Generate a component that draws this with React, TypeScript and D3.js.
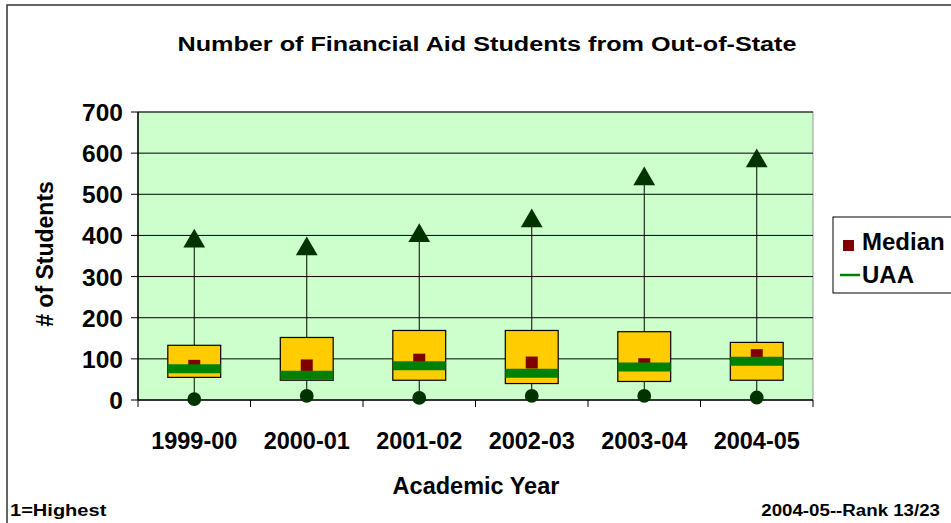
import React from 'react';
import * as d3 from 'd3';

const categories = ['1999-00', '2000-01', '2001-02', '2002-03', '2003-04', '2004-05'];
const highs = [386, 367, 399, 435, 537, 581];
const boxTops = [133, 152, 169, 169, 166, 140];
const boxBottoms = [55, 48, 48, 40, 45, 48];
const lows = [2, 10, 5, 10, 10, 6];
const medians = [83, 84, 98, 91, 87, 109];
const uaa = [76, 60, 83, 65, 80, 94];
const yTicks = [0, 100, 200, 300, 400, 500, 600, 700];

const FONT = 'Arial, "Liberation Sans", sans-serif';

const App: React.FC = () => {
  const width = 951;
  const height = 523;
  const plot = { left: 138, top: 112, right: 813, bottom: 400 };

  const x = d3.scaleBand<string>()
    .domain(categories)
    .range([plot.left, plot.right]);

  const y = d3.scaleLinear()
    .domain([0, 700])
    .range([plot.bottom, plot.top]);

  const boxW = x.bandwidth() * 0.47;
  const markerSize = 12;
  const tri = d3.symbol().type(d3.symbolTriangle).size(205)();
  const dot = d3.symbol().type(d3.symbolCircle).size(150)();

  return (
    <svg width={width} height={height} style={{ position: 'absolute', left: 0, top: 0 }}
      fontFamily={FONT} fontWeight="bold">
      <rect x={0} y={0} width={width} height={height} fill="#fff" />
      {/* outer chart frame */}
      <rect x={7} y={5} width={width + 20} height={height + 20} fill="none" stroke="#333" strokeWidth={1.5} />

      <text x={487} y={51} textAnchor="middle" fontSize={21} transform="translate(487,0) scale(1.2,1) translate(-487,0)">
        Number of Financial Aid Students from Out-of-State
      </text>

      {/* plot area */}
      <rect x={plot.left} y={plot.top} width={plot.right - plot.left} height={plot.bottom - plot.top}
        fill="#CCFFCC" stroke="#999" strokeWidth={1} />

      {yTicks.filter(t => t > 0).map(t => (
        <line key={t} x1={plot.left} x2={plot.right} y1={y(t)} y2={y(t)} stroke="#000" strokeWidth={1} />
      ))}

      {/* y axis */}
      <line x1={plot.left} x2={plot.left} y1={plot.top} y2={plot.bottom} stroke="#000" strokeWidth={1.5} />
      {yTicks.map(t => (
        <g key={t}>
          <line x1={plot.left - 7} x2={plot.left} y1={y(t)} y2={y(t)} stroke="#000" />
          <text x={plot.left - 15} y={y(t) + 9} textAnchor="end" fontSize={24.5}>{t}</text>
        </g>
      ))}

      {/* x axis */}
      <line x1={plot.left} x2={plot.right} y1={plot.bottom} y2={plot.bottom} stroke="#000" strokeWidth={1.5} />
      {categories.concat(['end']).map((c, i) => {
        const xx = plot.left + i * x.step();
        return <line key={c} x1={xx} x2={xx} y1={plot.bottom} y2={plot.bottom + 7} stroke="#000" />;
      })}
      {categories.map(c => (
        <text key={c} x={x(c)! + x.bandwidth() / 2} y={449} textAnchor="middle" fontSize={23.5}>{c}</text>
      ))}

      <text x={476} y={494} textAnchor="middle" fontSize={23.5}>Academic Year</text>
      <text transform={`translate(53,${254}) rotate(-90)`} textAnchor="middle" fontSize={23}># of Students</text>

      {/* high-low boxes */}
      {categories.map((c, i) => {
        const cx = x(c)! + x.bandwidth() / 2;
        return (
          <g key={c}>
            <line x1={cx} x2={cx} y1={y(highs[i])} y2={y(lows[i])} stroke="#000" strokeWidth={1} />
            <rect x={cx - boxW / 2} y={y(boxTops[i])} width={boxW}
              height={y(boxBottoms[i]) - y(boxTops[i])} fill="#FFCC00" stroke="#000" strokeWidth={1.2} />
            <rect x={cx - markerSize / 2} y={y(medians[i]) - markerSize / 2} width={markerSize}
              height={markerSize} fill="#800000" />
            <line x1={cx - boxW / 2} x2={cx + boxW / 2} y1={y(uaa[i])} y2={y(uaa[i])}
              stroke="#008000" strokeWidth={9} />
            <path d={tri!} transform={`translate(${cx},${y(highs[i])})`} fill="#003300" />
            <path d={dot!} transform={`translate(${cx},${y(lows[i])})`} fill="#003300" />
          </g>
        );
      })}

      {/* legend */}
      <rect x={833} y={217} width={140} height={76} fill="#fff" stroke="#000" strokeWidth={1} />
      <rect x={843} y={240} width={11} height={11} fill="#800000" />
      <text x={862} y={250} fontSize={24}>Median</text>
      <line x1={840} x2={860} y1={275} y2={275} stroke="#008000" strokeWidth={2.5} />
      <text x={862} y={283} fontSize={24}>UAA</text>

      <text x={10} y={516} fontSize={17} transform="translate(10,0) scale(1.18,1) translate(-10,0)">1=Highest</text>
      <text x={940} y={516} textAnchor="end" fontSize={17} transform="translate(940,0) scale(1.1,1) translate(-940,0)">2004-05--Rank 13/23</text>
    </svg>
  );
};

export default App;
